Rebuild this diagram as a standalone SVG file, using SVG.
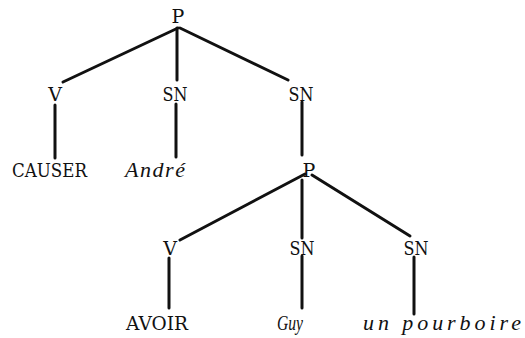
<svg xmlns="http://www.w3.org/2000/svg" width="525" height="338" viewBox="0 0 525 338">
<style>
text{font-family:"DejaVu Serif","Liberation Serif",serif;font-size:19px;fill:#111;text-anchor:middle}
.i{font-family:"Liberation Serif","DejaVu Serif",serif;font-style:italic;font-size:22px}
line{stroke:#111;stroke-width:3;stroke-linecap:round}
</style>
<rect width="525" height="338" fill="#fff"/>
<g id="connectors">
<line x1="178" y1="28" x2="63" y2="82"/>
<line x1="177" y1="28" x2="177" y2="80"/>
<line x1="180" y1="28" x2="288" y2="80"/>
<line x1="55" y1="105" x2="55" y2="158"/>
<line x1="176" y1="104" x2="176" y2="157"/>
<line x1="302" y1="102" x2="302" y2="155"/>
<line x1="305" y1="174" x2="180" y2="240"/>
<line x1="302" y1="180" x2="302" y2="238"/>
<line x1="312" y1="175" x2="410" y2="236"/>
<line x1="169" y1="258" x2="169" y2="308"/>
<line x1="302" y1="256" x2="302" y2="308"/>
<line x1="414" y1="257" x2="414" y2="314"/>
</g>
<g id="P1"><text x="178" y="23">P</text></g>
<g id="V1"><text x="55" y="101">V</text></g>
<g id="SN1"><text x="175" y="101" textLength="25" lengthAdjust="spacingAndGlyphs">SN</text></g>
<g id="SN2"><text x="301" y="101" textLength="25" lengthAdjust="spacingAndGlyphs">SN</text></g>
<g id="CAUSER"><text x="49.5" y="177" textLength="75" lengthAdjust="spacingAndGlyphs">CAUSER</text></g>
<g id="Andre"><text class="i" x="155" y="177" textLength="60" lengthAdjust="spacing">André</text></g>
<g id="P2"><text x="309" y="177">P</text></g>
<g id="V2"><text x="170" y="255">V</text></g>
<g id="SN3"><text x="302" y="255" textLength="25" lengthAdjust="spacingAndGlyphs">SN</text></g>
<g id="SN4"><text x="416" y="255" textLength="25" lengthAdjust="spacingAndGlyphs">SN</text></g>
<g id="AVOIR"><text x="157" y="330" textLength="62" lengthAdjust="spacingAndGlyphs">AVOIR</text></g>
<g id="Guy"><text class="i" x="290" y="330" textLength="26" lengthAdjust="spacingAndGlyphs">Guy</text></g>
<g id="pourboire"><text class="i" x="442" y="330" textLength="158" lengthAdjust="spacing">un pourboire</text></g>
</svg>
